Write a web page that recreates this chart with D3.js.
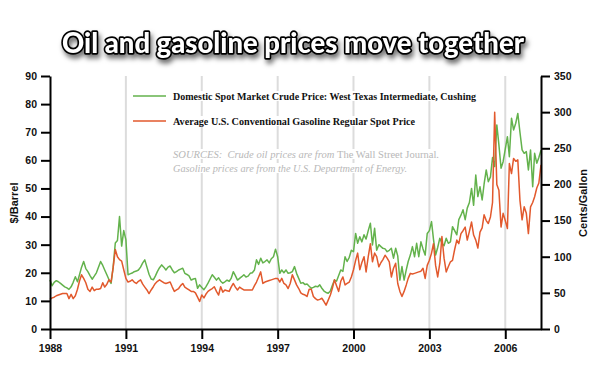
<!DOCTYPE html>
<html>
<head>
<meta charset="utf-8">
<script src="https://cdn.jsdelivr.net/npm/d3@7"></script>
<style>
  body { margin: 0; background: #fff; }
  svg { display: block; }
</style>
</head>
<body>
<div id="chartArea"></div>
<script>
// monthly values, Jan 1988 .. Jun 2007
var startYear = 1988;

// crude oil, $/barrel
var wti = [
    17.4, 15.4, 16.6, 17.2, 16.8, 16.2, 15.6, 15.0, 14.6, 14.1, 15.0, 16.6, // 1988
    18.6, 16.8, 19.2, 22.0, 24.0, 21.5, 20.4, 19.0, 17.7, 18.8, 20.0, 22.0, // 1989
    24.0, 22.6, 21.0, 19.3, 17.6, 16.2, 22.0, 30.6, 31.5, 40.0, 29.5, 35.0, // 1990
    31.8, 19.3, 19.6, 19.9, 20.4, 20.6, 21.0, 22.0, 23.5, 24.6, 22.0, 19.5, // 1991
    17.8, 17.5, 18.8, 20.5, 21.8, 22.8, 22.0, 21.0, 22.0, 22.4, 21.0, 20.0, // 1992
    20.4, 21.0, 21.3, 21.6, 19.8, 19.4, 18.9, 17.4, 17.8, 18.0, 14.5, 15.7, // 1993
    14.8, 14.0, 15.0, 16.3, 17.8, 19.3, 18.4, 17.4, 18.2, 17.0, 16.3, 16.8, // 1994
    17.4, 17.0, 18.0, 20.4, 19.0, 17.4, 18.0, 18.6, 19.3, 18.5, 18.8, 19.8, // 1995
    20.0, 21.0, 24.6, 23.0, 25.2, 23.5, 24.0, 24.6, 23.5, 25.0, 25.7, 28.4, // 1996
    25.7, 19.8, 21.0, 20.0, 21.0, 19.8, 20.0, 20.4, 22.2, 19.8, 18.0, 16.3, // 1997
    16.5, 15.8, 16.0, 15.2, 14.5, 14.8, 15.2, 15.0, 15.7, 14.5, 13.5, 13.0, // 1998
    12.7, 13.5, 15.5, 17.4, 17.0, 19.0, 21.0, 20.5, 25.7, 24.0, 25.5, 28.0, // 1999
    27.5, 34.0, 30.5, 32.8, 31.0, 33.5, 32.0, 35.0, 37.6, 29.9, 35.8, 28.0, // 2000
    30.0, 29.3, 28.7, 28.5, 27.5, 28.0, 28.7, 25.2, 28.7, 26.0, 17.4, 22.2, // 2001
    17.4, 21.0, 24.0, 26.3, 29.3, 25.7, 30.5, 25.7, 31.0, 28.5, 26.3, 34.0, // 2002
    35.0, 38.2, 32.0, 26.3, 29.0, 32.3, 30.5, 29.6, 32.3, 30.5, 31.0, 36.4, // 2003
    35.0, 33.5, 38.9, 40.5, 42.4, 38.9, 43.0, 45.0, 50.0, 44.0, 54.8, 47.1, // 2004
    50.6, 45.9, 51.5, 56.6, 52.4, 54.1, 61.0, 57.8, 72.6, 65.5, 57.2, 59.5, // 2005
    64.0, 68.4, 61.3, 75.0, 70.8, 73.2, 76.7, 70.0, 63.7, 62.5, 63.1, 56.6, // 2006
    63.7, 50.6, 62.5, 59.0, 61.0, 63.6                                      // 2007
];

// gasoline, cents/gallon
var gasoline = [
    41, 43, 44, 46, 47, 48, 49, 49, 49, 42, 48, 42,             // 1988
    46, 55, 66, 75, 70, 64, 55, 52, 58, 53, 55, 55,             // 1989
    56, 64, 58, 62, 68, 65, 85, 110, 100, 96, 94, 82,           // 1990
    70, 65, 66, 68, 65, 63, 66, 68, 62, 58, 54, 49,             // 1991
    54, 58.5, 63, 66, 68, 66, 64, 63, 64, 65, 58, 52,           // 1992
    54, 56, 60, 63, 58, 56, 54, 52, 52, 50, 44, 38,             // 1993
    47, 43, 48, 52, 54, 56, 58.5, 52, 47, 58.5, 51, 54,         // 1994
    53, 52, 58, 63, 58, 54, 58, 56, 54, 54, 54, 54,             // 1995
    54, 60, 65, 72, 79, 63, 65, 66, 67, 68, 69, 70,             // 1996
    70, 65, 70, 63, 61, 56, 63, 75, 68, 61, 56, 50,             // 1997
    48, 47, 45, 55, 55, 45, 42, 40, 41, 42.5, 38, 33,           // 1998
    40, 47, 56, 68, 60, 52, 66, 72, 61, 63, 65, 72,             // 1999
    82, 95, 105, 82, 92, 100, 79, 100, 118, 93, 105, 100,       // 2000
    86, 92, 96, 102, 98, 93, 72, 84, 91, 63, 52, 45,            // 2001
    52, 61, 70, 77, 76, 77, 78, 79, 80, 84, 70, 88,             // 2002
    95, 105, 118, 88, 72, 91, 128, 98, 79, 86, 93, 95,          // 2003
    110, 123, 118, 132, 136, 141, 123, 135, 148, 130, 123, 112, // 2004
    134, 140, 158, 150, 146, 155, 175, 300, 200, 192, 141, 160, // 2005
    150, 139, 229, 215, 236, 232, 234, 178, 151, 169, 160, 132, // 2006
    169, 175, 183, 195, 202, 227                                // 2007
];

var tickYears = [1988, 1991, 1994, 1997, 2000, 2003, 2006];
var leftTicks = [0, 10, 20, 30, 40, 50, 60, 70, 80, 90];
var rightTicks = [0, 50, 100, 150, 200, 250, 300, 350];

var titleText = 'Oil and gasoline prices move together';
var legendLabels = [
    'Domestic Spot Market Crude Price: West Texas Intermediate, Cushing',
    'Average U.S. Conventional Gasoline Regular Spot Price'
];

var green = '#63b24c', red = '#e2592d';

var W = 600, H = 376;
var plotLeft = 50, plotRight = 541, plotTop = 76, plotBottom = 329;

var svg = d3.select('#chartArea').append('svg')
    .attr('width', W)
    .attr('height', H);

svg.append('rect').attr('width', W).attr('height', H).attr('fill', '#fff');

var defs = svg.append('defs');
var shadow = defs.append('filter')
    .attr('id', 'shadow')
    .attr('x', '-10%').attr('y', '-40%')
    .attr('width', '120%').attr('height', '200%');
shadow.append('feDropShadow')
    .attr('dx', 2).attr('dy', 4)
    .attr('stdDeviation', 2.5)
    .attr('flood-color', '#000')
    .attr('flood-opacity', 0.55);

var dates = wti.map(function (d, i) {
    return new Date(startYear, i, 1);
});

var xScale = d3.scaleTime()
    .domain([new Date(startYear, 0, 1), dates[dates.length - 1]])
    .range([plotLeft, plotRight]);

var yLeft = d3.scaleLinear().domain([0, 90]).range([plotBottom, plotTop]);
var yRight = d3.scaleLinear().domain([0, 350]).range([plotBottom, plotTop]);

// vertical grid
svg.append('g')
    .selectAll('line')
    .data(tickYears.slice(1))
    .enter()
    .append('line')
    .attr('x1', function (d) { return xScale(new Date(d, 0, 1)); })
    .attr('x2', function (d) { return xScale(new Date(d, 0, 1)); })
    .attr('y1', plotTop)
    .attr('y2', plotBottom)
    .attr('stroke', '#dcdcdc')
    .attr('stroke-width', 2);

// legend + sources (white boxes hide the grid behind text)
var legend = svg.append('g');

function boxedText(g, x, y, build) {
    var bg = g.append('rect').attr('fill', '#fff');
    var t = g.append('text').attr('x', x).attr('y', y);
    build(t);
    var b = t.node().getBBox();
    bg.attr('x', b.x - 1).attr('y', b.y + 1)
        .attr('width', b.width + 2).attr('height', b.height - 2);
    return t;
}

[green, red].forEach(function (c, i) {
    var y = 96 + i * 25;
    legend.append('line')
        .attr('x1', 133).attr('x2', 166)
        .attr('y1', y).attr('y2', y)
        .attr('stroke', c)
        .attr('stroke-width', 1.5);
    boxedText(legend, 173, y + 4, function (t) {
        t.text(legendLabels[i])
            .attr('font-family', 'Liberation Serif, serif')
            .attr('font-weight', 'bold')
            .attr('font-size', 11)
            .attr('fill', '#111')
            .attr('textLength', i === 0 ? 303 : 242)
            .attr('lengthAdjust', 'spacingAndGlyphs');
    });
});

boxedText(legend, 173, 158, function (t) {
    t.attr('font-family', 'Liberation Serif, serif')
        .attr('font-size', 11)
        .attr('fill', '#b8b8b8')
        .attr('textLength', 266)
        .attr('lengthAdjust', 'spacingAndGlyphs');
    t.append('tspan').attr('font-style', 'italic')
        .text('SOURCES:\u00a0\u00a0Crude oil prices are from ');
    t.append('tspan').text('The Wall Street Journal.');
});
boxedText(legend, 173, 172, function (t) {
    t.attr('font-family', 'Liberation Serif, serif')
        .attr('font-size', 11)
        .attr('font-style', 'italic')
        .attr('fill', '#b8b8b8')
        .attr('textLength', 234)
        .attr('lengthAdjust', 'spacingAndGlyphs')
        .text('Gasoline prices are from the U.S. Department of Energy.');
});

// series
var wtiLine = d3.line()
    .x(function (d, i) { return xScale(dates[i]); })
    .y(function (d) { return yLeft(d); });

var gasLine = d3.line()
    .x(function (d, i) { return xScale(dates[i]); })
    .y(function (d) { return yRight(d); });

svg.append('path')
    .datum(wti)
    .attr('d', wtiLine)
    .attr('fill', 'none')
    .attr('stroke', green)
    .attr('stroke-width', 1.5)
    .attr('stroke-linejoin', 'round');

svg.append('path')
    .datum(gasoline)
    .attr('d', gasLine)
    .attr('fill', 'none')
    .attr('stroke', red)
    .attr('stroke-width', 1.5)
    .attr('stroke-linejoin', 'round');

// axes
function styleAxis(g) {
    g.select('.domain').attr('stroke', '#000').attr('stroke-width', 2);
    g.selectAll('.tick line').attr('stroke', '#000').attr('stroke-width', 2);
    g.selectAll('.tick text')
        .attr('font-family', 'Liberation Sans, Arial, sans-serif')
        .attr('font-weight', 'bold')
        .attr('font-size', 10.5)
        .attr('fill', '#111');
}

var xAxis = d3.axisBottom(xScale)
    .tickValues(tickYears.map(function (y) { return new Date(y, 0, 1); }))
    .tickFormat(d3.timeFormat('%Y'))
    .tickSize(10)
    .tickSizeOuter(0)
    .tickPadding(6);

svg.append('g')
    .attr('class', 'x-axis')
    .attr('transform', 'translate(0, ' + plotBottom + ')')
    .call(xAxis)
    .call(styleAxis);

var yAxisL = d3.axisLeft(yLeft)
    .tickValues(leftTicks)
    .tickSize(9)
    .tickSizeOuter(0)
    .tickPadding(4);

svg.append('g')
    .attr('class', 'y-axis')
    .attr('transform', 'translate(' + plotLeft + ', 0)')
    .call(yAxisL)
    .call(styleAxis);

var yAxisR = d3.axisRight(yRight)
    .tickValues(rightTicks)
    .tickSize(9)
    .tickSizeOuter(0)
    .tickPadding(4);

svg.append('g')
    .attr('class', 'y-axis-right')
    .attr('transform', 'translate(' + plotRight + ', 0)')
    .call(yAxisR)
    .call(styleAxis);

// axis titles
svg.append('text')
    .attr('transform', 'translate(18, 203) rotate(-90)')
    .attr('text-anchor', 'middle')
    .attr('font-family', 'Liberation Sans, Arial, sans-serif')
    .attr('font-weight', 'bold')
    .attr('font-size', 11)
    .attr('fill', '#111')
    .text('$/Barrel');

svg.append('text')
    .attr('transform', 'translate(587, 203) rotate(-90)')
    .attr('text-anchor', 'middle')
    .attr('font-family', 'Liberation Sans, Arial, sans-serif')
    .attr('font-weight', 'bold')
    .attr('font-size', 11)
    .attr('fill', '#111')
    .text('Cents/Gallon');

// title
svg.append('text')
    .attr('x', 293)
    .attr('y', 53)
    .attr('text-anchor', 'middle')
    .attr('font-family', 'Lato, DejaVu Sans, sans-serif')
    .attr('font-weight', 900)
    .attr('font-size', 29)
    .attr('fill', '#fff')
    .attr('stroke', '#000')
    .attr('stroke-width', 3.5)
    .attr('stroke-linejoin', 'round')
    .attr('paint-order', 'stroke')
    .attr('textLength', 462)
    .attr('lengthAdjust', 'spacingAndGlyphs')
    .attr('filter', 'url(#shadow)')
    .text(titleText);
</script>
</body>
</html>
